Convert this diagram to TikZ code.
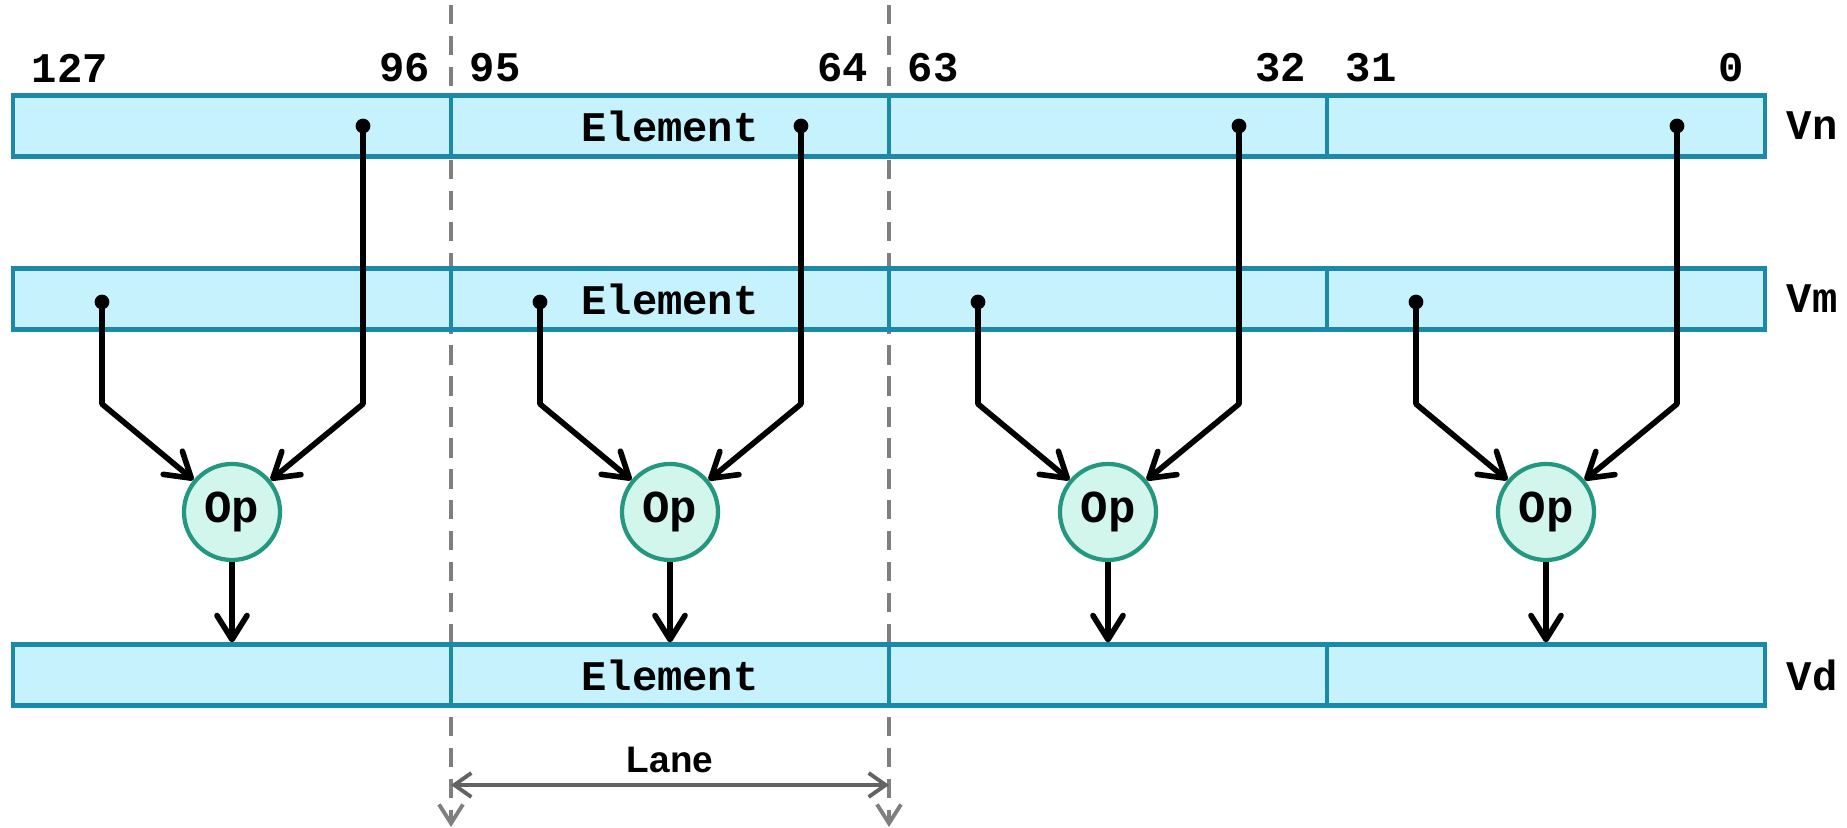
\documentclass[tikz,border=0pt]{standalone}
\usepackage{fontspec}
\setmainfont{Liberation Sans}
\setmonofont{Liberation Mono}
\usepackage{tikz}
\usetikzlibrary{arrows.meta,positioning,backgrounds}
\definecolor{regfill}{HTML}{C5F2FD}
\definecolor{regline}{HTML}{1B8AAA}
\definecolor{opfill}{HTML}{D2F5EC}
\definecolor{opline}{HTML}{23977F}
\definecolor{guidegray}{HTML}{7F7F7F}
\definecolor{spangray}{HTML}{636363}
\newcommand{\lanew}{4.38cm}
\newcommand{\rowh}{0.61cm}
\newcommand{\wirew}{1.6pt}
\newcommand{\monofont}{\ttfamily\bfseries\fontsize{12}{14}\selectfont}

\begin{document}
\begin{tikzpicture}[x=0.01cm, y=-0.01cm,
  cell/.style={draw=regline, fill=regfill, line width=1.2pt, minimum width=\lanew, minimum height=\rowh, inner sep=0pt, font=\monofont},
  opnode/.style={circle, draw=opline, fill=opfill, line width=1.2pt, minimum size=0.96cm, inner sep=0pt, font=\ttfamily\bfseries\fontsize{13}{15}\selectfont},
  bits/.style={inner sep=0pt, font=\monofont},
  dot/.style={circle, fill=black, inner sep=0pt, minimum size=4.2pt},
  wire/.style={line width=\wirew, line join=round, -{Straight Barb[length=2.4mm,width=3mm,round]}},
  guide/.style={guidegray, line width=1.1pt, dash pattern=on 5.5pt off 3.3pt, -{Straight Barb[length=1.9mm,width=2.4mm]}},
  span/.style={spangray, line width=1.1pt, {Straight Barb[length=1.7mm,width=2.4mm]}-{Straight Barb[length=1.7mm,width=2.4mm]}}]
\useasboundingbox (0,0) rectangle (1847,828);
% registers
\node[cell] (n1) at (232,126) {};
\node[cell] (n2) at (670,126) {Element};
\node[cell] (n3) at (1108,126) {};
\node[cell] (n4) at (1546,126) {};
\node[cell] (m1) at (232,299) {};
\node[cell] (m2) at (670,299) {Element};
\node[cell] (m3) at (1108,299) {};
\node[cell] (m4) at (1546,299) {};
\node[cell] (d1) at (232,675) {};
\node[cell] (d2) at (670,675) {Element};
\node[cell] (d3) at (1108,675) {};
\node[cell] (d4) at (1546,675) {};
\node[bits, right=0.19cm of n4] (vn) {Vn};
\node[bits, right=0.19cm of m4] (vm) {Vm};
\node[bits, right=0.19cm of d4] (vd) {Vd};
% bit numbers
\node[bits, anchor=west] (b127) at (31,68) {127};
\node[bits, anchor=east] (b96) at (431,68) {96};
\node[bits, anchor=west] (b95) at (469,68) {95};
\node[bits, anchor=east] (b64) at (869,68) {64};
\node[bits, anchor=west] (b63) at (907,68) {63};
\node[bits, anchor=east] (b32) at (1307,68) {32};
\node[bits, anchor=west] (b31) at (1345,68) {31};
\node[bits, anchor=east] (b0) at (1745,68) {0};
% operations
\node[opnode] (op1) at (232,512) {Op};
\node[opnode] (op2) at (670,512) {Op};
\node[opnode] (op3) at (1108,512) {Op};
\node[opnode] (op4) at (1546,512) {Op};
% source dots
\node[dot] (sn1) at (363,126) {};
\node[dot] (sn2) at (801,126) {};
\node[dot] (sn3) at (1239,126) {};
\node[dot] (sn4) at (1677,126) {};
\node[dot] (sm1) at (102,302) {};
\node[dot] (sm2) at (540,302) {};
\node[dot] (sm3) at (978,302) {};
\node[dot] (sm4) at (1416,302) {};
\coordinate (kn1) at (363,404);
\coordinate (kn2) at (801,404);
\coordinate (kn3) at (1239,404);
\coordinate (kn4) at (1677,404);
\coordinate (km1) at (102,404);
\coordinate (km2) at (540,404);
\coordinate (km3) at (978,404);
\coordinate (km4) at (1416,404);
\draw[wire] (sn1.center) -- (kn1) -- (op1);
\draw[wire] (sn2.center) -- (kn2) -- (op2);
\draw[wire] (sn3.center) -- (kn3) -- (op3);
\draw[wire] (sn4.center) -- (kn4) -- (op4);
\draw[wire] (sm1.center) -- (km1) -- (op1);
\draw[wire] (sm2.center) -- (km2) -- (op2);
\draw[wire] (sm3.center) -- (km3) -- (op3);
\draw[wire] (sm4.center) -- (km4) -- (op4);
\draw[wire] (op1) -- (d1);
\draw[wire] (op2) -- (d2);
\draw[wire] (op3) -- (d3);
\draw[wire] (op4) -- (d4);
% lane marks
\coordinate (ga) at (451,5);
\coordinate (gb) at (889,5);
\coordinate (ga') at (451,827);
\coordinate (gb') at (889,827);
\begin{scope}[on background layer]
\draw[guide] (ga) -- (ga');
\draw[guide] (gb) -- (gb');
\end{scope}
\coordinate (la) at (451,785);
\coordinate (lb) at (889,785);
\draw[span] (la) -- (lb);
\node[font=\bfseries\fontsize{10.5}{12}\selectfont, inner sep=0pt] (lane) at (670,760) {Lane};
\end{tikzpicture}
\end{document}
